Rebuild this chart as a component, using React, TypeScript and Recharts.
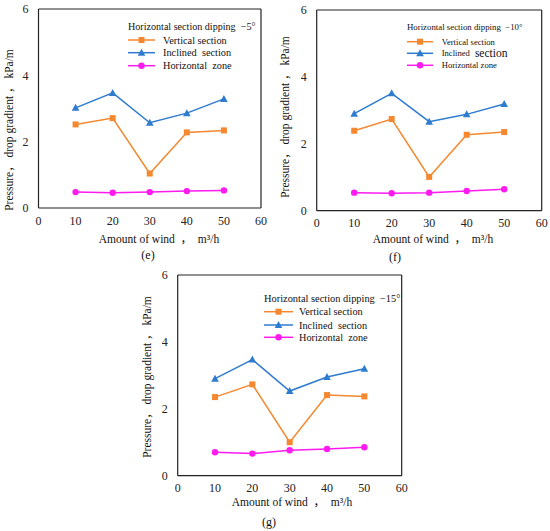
import { LineChart, Line, XAxis, YAxis, ReferenceLine } from 'recharts';

// x categories (m3/h) and axis ticks
const windAmount = [10, 20, 30, 40, 50];
const xTicks = [0, 10, 20, 30, 40, 50, 60];
const yTicks = [0, 2, 4, 6];

// (e) dipping -5°
const verticalE = [2.52, 2.71, 1.04, 2.28, 2.34];
const inclinedE = [3.02, 3.47, 2.57, 2.86, 3.29];
const horizontalE = [0.48, 0.46, 0.48, 0.51, 0.53];

// (f) dipping -10°
const verticalF = [2.39, 2.74, 1.01, 2.27, 2.35];
const inclinedF = [2.9, 3.51, 2.66, 2.88, 3.19];
const horizontalF = [0.54, 0.52, 0.54, 0.59, 0.64];

// (g) dipping -15°
const verticalG = [2.35, 2.73, 1.0, 2.41, 2.37];
const inclinedG = [2.9, 3.47, 2.53, 2.95, 3.2];
const horizontalG = [0.7, 0.66, 0.76, 0.8, 0.85];

const ORANGE = '#F5882F';
const BLUE = '#2E7BCF';
const MAGENTA = '#FF1AF0';
const AXIS = '#222';
const SERIF = "'Liberation Serif', 'Noto Sans CJK SC', serif";

const Y_TITLE = 'Pressure， drop gradient ， kPa/m';
const X_TITLE = 'Amount of wind  ，  m³/h';

const Y_AXIS_W = 38;
const X_AXIS_H = 24;

function buildRows(vertical: number[], inclined: number[], horizontal: number[]) {
  return windAmount.map((w, i) => ({
    wind: w,
    vertical: vertical[i],
    inclined: inclined[i],
    horizontal: horizontal[i],
  }));
}

const squareDot = (props: any) => (
  <rect key={`sq-${props.index}`} x={props.cx - 3} y={props.cy - 3} width={6} height={6} fill={ORANGE} />
);

const triangleDot = (props: any) => {
  const { cx, cy } = props;
  return (
    <polygon
      key={`tr-${props.index}`}
      points={`${cx},${cy - 4} ${cx - 3.8},${cy + 3} ${cx + 3.8},${cy + 3}`}
      fill={BLUE}
    />
  );
};

const circleDot = (props: any) => (
  <circle key={`ci-${props.index}`} cx={props.cx} cy={props.cy} r={3.2} fill={MAGENTA} />
);

interface PanelProps {
  left: number;
  top: number;
  plot: { left: number; top: number; right: number; bottom: number }; // page coords
  vertical: number[];
  inclined: number[];
  horizontal: number[];
}

function Panel({ left, top, plot, vertical, inclined, horizontal }: PanelProps) {
  const data = buildRows(vertical, inclined, horizontal);
  const tick = { fontSize: 12, fill: AXIS, fontFamily: SERIF };
  const width = plot.right - left + 10;
  const height = plot.bottom - top + X_AXIS_H;
  const margin = {
    top: plot.top - top,
    right: 10,
    bottom: 0,
    left: plot.left - left - Y_AXIS_W,
  };
  return (
    <div style={{ position: 'absolute', left, top }}>
      <LineChart width={width} height={height} data={data} margin={margin}>
        <XAxis
          type="number"
          dataKey="wind"
          domain={[0, 60]}
          ticks={xTicks}
          height={X_AXIS_H}
          tickLine={false}
          tick={tick}
          stroke={AXIS}
          strokeWidth={1.2}
        />
        <YAxis
          type="number"
          domain={[0, 6]}
          ticks={yTicks}
          width={Y_AXIS_W}
          tickLine={false}
          tickMargin={4}
          tick={tick}
          stroke={AXIS}
          strokeWidth={1.2}
        />
        <ReferenceLine y={6} stroke={AXIS} strokeWidth={1.2} />
        <ReferenceLine x={60} stroke={AXIS} strokeWidth={1.2} />
        <Line dataKey="vertical" stroke={ORANGE} strokeWidth={1.5} dot={squareDot} isAnimationActive={false} />
        <Line dataKey="inclined" stroke={BLUE} strokeWidth={1.5} dot={triangleDot} isAnimationActive={false} />
        <Line dataKey="horizontal" stroke={MAGENTA} strokeWidth={1.5} dot={circleDot} isAnimationActive={false} />
      </LineChart>
    </div>
  );
}

interface LegendProps {
  x: number;
  titleY: number;
  rowYs: number[];
  lineLen: number;
  textX: number;
  title: string;
  titleSize: number;
  rowSize: number;
  bigSection?: number;
}

function LegendMarks({ x, titleY, rowYs, lineLen, textX, title, titleSize, rowSize, bigSection }: LegendProps) {
  const mid = x + lineLen / 2;
  return (
    <g fontFamily={SERIF} fill="#111">
      <text x={x} y={titleY} fontSize={titleSize} dominantBaseline="central" style={{ whiteSpace: 'pre' }}>
        {title}
      </text>
      <line x1={x} x2={x + lineLen} y1={rowYs[0]} y2={rowYs[0]} stroke={ORANGE} strokeWidth={1.5} />
      <rect x={mid - 3} y={rowYs[0] - 3} width={6} height={6} fill={ORANGE} />
      <text x={textX} y={rowYs[0]} fontSize={rowSize} dominantBaseline="central">
        Vertical section
      </text>
      <line x1={x} x2={x + lineLen} y1={rowYs[1]} y2={rowYs[1]} stroke={BLUE} strokeWidth={1.5} />
      <polygon
        points={`${mid},${rowYs[1] - 4} ${mid - 3.8},${rowYs[1] + 3} ${mid + 3.8},${rowYs[1] + 3}`}
        fill={BLUE}
      />
      <text x={textX} y={rowYs[1]} fontSize={rowSize} dominantBaseline="central" style={{ whiteSpace: 'pre' }}>
        Inclined {bigSection ? <tspan fontSize={bigSection}> section</tspan> : ' section'}
      </text>
      <line x1={x} x2={x + lineLen} y1={rowYs[2]} y2={rowYs[2]} stroke={MAGENTA} strokeWidth={1.5} />
      <circle cx={mid} cy={rowYs[2]} r={3.2} fill={MAGENTA} />
      <text x={textX} y={rowYs[2]} fontSize={rowSize} dominantBaseline="central" style={{ whiteSpace: 'pre' }}>
        {bigSection ? 'Horizontal zone' : 'Horizontal  zone'}
      </text>
    </g>
  );
}

function AxisTitles({ xCx, xCy, yCx, yCy, caption, capX, capY }: any) {
  return (
    <g fontFamily={SERIF} fill="#111">
      <text x={xCx} y={xCy} fontSize={11.5} textAnchor="middle" dominantBaseline="central" style={{ whiteSpace: 'pre' }}>
        {X_TITLE}
      </text>
      <text
        x={yCx}
        y={yCy}
        fontSize={11.5}
        textAnchor="middle"
        dominantBaseline="central"
        transform={`rotate(-90, ${yCx}, ${yCy})`}
      >
        {Y_TITLE}
      </text>
      <text x={capX} y={capY} fontSize={12} textAnchor="middle" dominantBaseline="central">
        {caption}
      </text>
    </g>
  );
}

export default function App() {
  return (
    <div style={{ position: 'absolute', left: 0, top: 0, width: 550, height: 531, background: '#fff' }}>
      <Panel
        left={0}
        top={0}
        plot={{ left: 38.5, top: 9, right: 261, bottom: 208 }}
        vertical={verticalE}
        inclined={inclinedE}
        horizontal={horizontalE}
      />
      <Panel
        left={275}
        top={0}
        plot={{ left: 316.7, top: 10, right: 541.7, bottom: 210.7 }}
        vertical={verticalF}
        inclined={inclinedF}
        horizontal={horizontalF}
      />
      <Panel
        left={130}
        top={265}
        plot={{ left: 177.7, top: 275, right: 401.7, bottom: 475.7 }}
        vertical={verticalG}
        inclined={inclinedG}
        horizontal={horizontalG}
      />
      <svg
        width={550}
        height={531}
        style={{ position: 'absolute', left: 0, top: 0, pointerEvents: 'none' }}
      >
        <LegendMarks
          x={128}
          titleY={26.7}
          rowYs={[40, 52.7, 65.7]}
          lineLen={27}
          textX={163}
          title="Horizontal section dipping  −5°"
          titleSize={10.1}
          rowSize={10.3}
        />
        <LegendMarks
          x={407}
          titleY={26.7}
          rowYs={[41.7, 53.3, 65.3]}
          lineLen={26}
          textX={441.7}
          title="Horizontal section dipping  −10°"
          titleSize={8.8}
          rowSize={8.6}
          bigSection={11.5}
        />
        <LegendMarks
          x={264}
          titleY={298}
          rowYs={[311.7, 325, 337.3]}
          lineLen={29}
          textX={299}
          title="Horizontal section dipping  −15°"
          titleSize={10.4}
          rowSize={10.3}
        />
        <AxisTitles xCx={159} xCy={239} yCx={8.5} yCy={130} caption="(e)" capX={148} capY={255} />
        <AxisTitles xCx={433} xCy={239} yCx={285} yCy={117} caption="(f)" capX={395} capY={257} />
        <AxisTitles xCx={292} xCy={502} yCx={146.7} yCy={377} caption="(g)" capX={269} capY={522} />
      </svg>
    </div>
  );
}
